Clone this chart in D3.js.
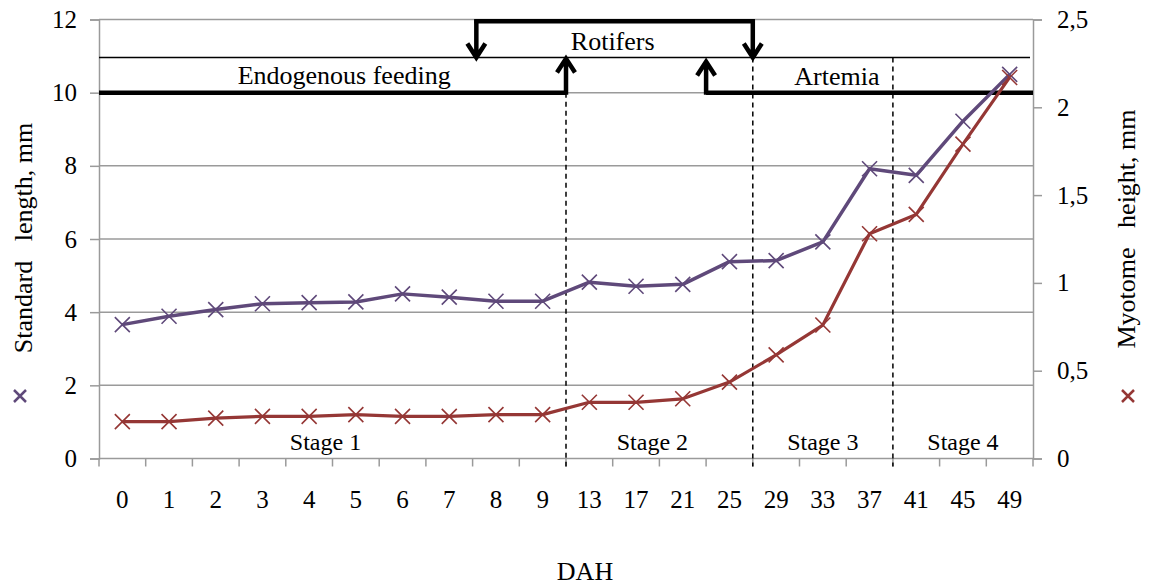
<!DOCTYPE html>
<html><head><meta charset="utf-8">
<script src="https://cdn.jsdelivr.net/npm/d3@7"></script>
<style>
body{margin:0;background:#fff}
text{font-family:"Liberation Serif","Times New Roman",serif;fill:#000}
</style>
</head><body><svg id="c" width="1151" height="587"></svg>
<script>
const categories = ["0","1","2","3","4","5","6","7","8","9","13","17","21","25","29","33","37","41","45","49"];
const standardLength = [3.66,3.89,4.07,4.23,4.26,4.28,4.50,4.41,4.30,4.30,4.82,4.71,4.76,5.38,5.41,5.92,7.92,7.74,9.22,10.5];
const myotomeHeight = [0.21,0.21,0.23,0.24,0.24,0.25,0.24,0.24,0.25,0.25,0.32,0.32,0.34,0.435,0.59,0.76,1.28,1.39,1.79,2.17];
const leftTicks = [0,2,4,6,8,10,12];
const rightTicks = [0,0.5,1,1.5,2,2.5];
const rightTickLabels = ["0","0,5","1","1,5","2","2,5"];
const stageLabels = ["Stage 1","Stage 2","Stage 3","Stage 4"];
const feedingLabels = ["Endogenous feeding","Rotifers","Artemia"];

const svg = d3.select("#c");
const L = 99, R = 1033, T = 19.5, B = 458.5;
const purple = "#5f497a", red = "#953735", grid = "#9a9a9a";
const FS = 25;

const x = d3.scaleBand().domain(categories).range([L, R]).padding(0);
const xi = i => L + i * x.step();
const yL = d3.scaleLinear().domain([0, 12]).range([B, T]);
const yR = d3.scaleLinear().domain([0, 2.5]).range([B, T]);
const cx = c => x(c) + x.bandwidth() / 2;

// gridlines
svg.append("g").selectAll("line").data(leftTicks.filter(d => d > 0)).join("line")
  .attr("x1", L).attr("x2", R).attr("y1", d => yL(d)).attr("y2", d => yL(d))
  .attr("stroke", grid).attr("stroke-width", 1.5);

// left axis
const gl = svg.append("g").attr("transform", `translate(${L},0)`)
  .call(d3.axisLeft(yL).tickValues(leftTicks).tickSize(9).tickPadding(13).tickFormat(d3.format("d")));
gl.selectAll("path,line").attr("stroke", grid).attr("stroke-width", 1.5);
gl.selectAll("text").attr("font-size", FS).attr("font-family", "Liberation Serif");

// right axis
const gr = svg.append("g").attr("transform", `translate(${R},0)`)
  .call(d3.axisRight(yR).tickValues(rightTicks).tickSize(9).tickPadding(15).tickFormat((d, i) => rightTickLabels[i]));
gr.selectAll("path,line").attr("stroke", grid).attr("stroke-width", 1.5);
gr.selectAll("text").attr("font-size", FS).attr("font-family", "Liberation Serif");

// bottom axis
svg.append("line").attr("x1", L).attr("x2", R).attr("y1", B).attr("y2", B)
  .attr("stroke", grid).attr("stroke-width", 1.5);
svg.append("g").selectAll("line").data(d3.range(categories.length + 1)).join("line")
  .attr("x1", d => xi(d)).attr("x2", d => xi(d)).attr("y1", B).attr("y2", B + 8)
  .attr("stroke", grid).attr("stroke-width", 1.5);
svg.append("g").selectAll("text").data(categories).join("text")
  .attr("x", d => cx(d)).attr("y", 508).attr("text-anchor", "middle").attr("font-size", FS).text(d => d);

svg.append("text").attr("x", 585).attr("y", 580).attr("text-anchor", "middle").attr("font-size", 26).text("DAH");

// axis titles with markers
svg.append("text").attr("transform", "translate(32,238) rotate(-90)").attr("text-anchor", "middle")
  .attr("font-size", 26).style("white-space", "pre").text("Standard   length, mm");
svg.append("text").attr("transform", "translate(1135,229) rotate(-90)").attr("text-anchor", "middle")
  .attr("font-size", 26).style("white-space", "pre").text("Myotome   height, mm");

function cross(g, px, py, s, col, w) {
  g.append("path").attr("d", `M${px - s},${py - s}L${px + s},${py + s}M${px - s},${py + s}L${px + s},${py - s}`)
    .attr("stroke", col).attr("stroke-width", w).attr("fill", "none");
}
cross(svg, 20, 396, 6, purple, 2.5);
cross(svg, 1128, 396, 6, red, 2.5);

// feeding annotations
const blk = svg.append("g").attr("stroke", "#000").attr("fill", "none");
const yThin = yL(10.96), yThick = yL(10), yTop = yL(11.95);
blk.append("line").attr("x1", L).attr("x2", R - 3).attr("y1", yThin).attr("y2", yThin).attr("stroke-width", 1.5);

function arrow(px, yBase, yTip) {
  const dir = yTip < yBase ? 1 : -1;
  blk.append("path").attr("d", `M${px},${yBase}L${px},${yTip}M${px - 9},${yTip + dir * 14}L${px},${yTip}L${px + 9},${yTip + dir * 14}`)
    .attr("stroke-width", 4.5).attr("stroke-linejoin", "miter");
}
blk.append("path").attr("d", `M${L},${yThick}L${x("13")},${yThick}`).attr("stroke-width", 4.5);
arrow(x("13"), yThick + 2, yThin + 1);
const rs = xi(8.08), re = x("29");
blk.append("path").attr("d", `M${rs - 2},${yTop}L${re + 2},${yTop}`).attr("stroke-width", 4.5);
arrow(rs, yTop - 2, yThin);
arrow(re, yTop - 2, yThin);
blk.append("path").attr("d", `M${x("25")},${yThick}L${R},${yThick}`).attr("stroke-width", 4.5);
arrow(x("25"), yThick + 2, yThin + 4);

svg.append("text").attr("x", xi(5.25)).attr("y", 84).attr("text-anchor", "middle").attr("font-size", 26).text(feedingLabels[0]);
svg.append("text").attr("x", xi(11.0)).attr("y", 50).attr("text-anchor", "middle").attr("font-size", 26).text(feedingLabels[1]);
svg.append("text").attr("x", xi(15.8)).attr("y", 85).attr("text-anchor", "middle").attr("font-size", 26).text(feedingLabels[2]);

// stage dashed lines
const dash = svg.append("g").attr("stroke", "#000").attr("stroke-width", 1.5).attr("stroke-dasharray", "5,4");
dash.append("line").attr("x1", x("13")).attr("x2", x("13")).attr("y1", yThick).attr("y2", B + 8);
dash.append("line").attr("x1", x("29")).attr("x2", x("29")).attr("y1", yThin).attr("y2", B + 8);
dash.append("line").attr("x1", x("41")).attr("x2", x("41")).attr("y1", yThin).attr("y2", B + 8);

const stageCenters = [xi(4.85), xi(11.85), xi(15.5), xi(18.5)];
svg.append("g").selectAll("text").data(stageLabels).join("text")
  .attr("x", (d, i) => stageCenters[i]).attr("y", 450).attr("text-anchor", "middle").attr("font-size", 24).text(d => d);

// series
const lineL = d3.line().x((d, i) => cx(categories[i])).y(d => yL(d));
const lineR = d3.line().x((d, i) => cx(categories[i])).y(d => yR(d));

svg.append("path").datum(standardLength).attr("d", lineL).attr("fill", "none").attr("stroke", purple)
  .attr("stroke-width", 3.5).attr("stroke-linejoin", "round");
const gp = svg.append("g");
standardLength.forEach((v, i) => cross(gp, cx(categories[i]), yL(v), 7.5, purple, 1.6));

svg.append("path").datum(myotomeHeight).attr("d", lineR).attr("fill", "none").attr("stroke", red)
  .attr("stroke-width", 3.2).attr("stroke-linejoin", "round");
const gq = svg.append("g");
myotomeHeight.forEach((v, i) => cross(gq, cx(categories[i]), yR(v), 7.5, red, 1.6));
</script>
</body></html>
